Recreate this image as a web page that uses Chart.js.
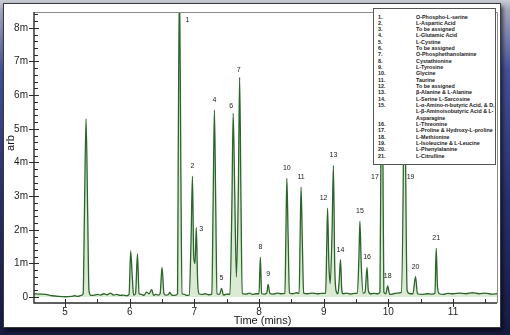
<!DOCTYPE html>
<html>
<head>
<meta charset="utf-8">
<script src="https://cdn.jsdelivr.net/npm/chart.js@4.4.1/dist/chart.umd.min.js"></script>
<style>
html, body { margin: 0; padding: 0; }
body {
  width: 510px; height: 335px; overflow: hidden; position: relative;
  background: linear-gradient(to bottom, #c9ccd3 0px, #a3a8bd 10px, #44519a 70px, #27306d 200px, #161b40 335px);
  font-family: "Liberation Sans", Arial, sans-serif;
}
#card {
  position: absolute; left: 3px; top: 3px; width: 496px; height: 323px;
  background: #fff; border: 1px solid #3a3a3a;
  box-shadow: 2px 3px 4px rgba(0,0,0,0.6);
}
#chart { position: absolute; left: 0; top: 0; }
#key {
  position: absolute; left: 373px; top: 8px; width: 123px; height: 157px;
  box-sizing: border-box; padding-top: 4.5px;
  background: #fff; border: 1px solid #555;
  font: bold 5.4px "Liberation Sans", Arial, sans-serif; color: #222;
}
#key .row { display: flex; line-height: 6.33px; }
#key .n { width: 38px; padding-left: 4px; flex: none; }
</style>
</head>
<body>
<div id="card"></div>
<canvas id="chart" width="510" height="335"></canvas>
<div id="key"></div>
<script>
// retention time (mins) and detector signal (m arb)
const time = [
  4.52, 4.60, 4.70, 4.80, 4.90, 5.00, 5.10, 5.15, 5.20, 5.25,
  5.28, 5.30, 5.325, 5.35, 5.37, 5.40, 5.45, 5.50, 5.55, 5.60,
  5.65, 5.70, 5.75, 5.80, 5.85, 5.90, 5.95, 5.99, 6.015, 6.04,
  6.06, 6.09, 6.12, 6.145, 6.18, 6.22, 6.26, 6.30, 6.34, 6.37,
  6.40, 6.44, 6.47, 6.50, 6.53, 6.56, 6.60, 6.62, 6.65, 6.70,
  6.74, 6.75, 6.77, 6.79, 6.81, 6.85, 6.88, 6.92, 6.95, 6.97,
  6.99, 7.01, 7.03, 7.05, 7.07, 7.12, 7.17, 7.22, 7.27, 7.29,
  7.31, 7.33, 7.35, 7.39, 7.42, 7.45, 7.50, 7.55, 7.58, 7.60,
  7.625, 7.65, 7.68, 7.70, 7.72, 7.74, 7.80, 7.85, 7.90, 7.95,
  8.00, 8.02, 8.04, 8.08, 8.12, 8.14, 8.17, 8.22, 8.28, 8.34,
  8.40, 8.415, 8.43, 8.45, 8.47, 8.52, 8.58, 8.62, 8.635, 8.65,
  8.67, 8.69, 8.75, 8.82, 8.90, 8.97, 9.03, 9.045, 9.06, 9.08,
  9.10, 9.13, 9.15, 9.17, 9.19, 9.22, 9.24, 9.26, 9.28, 9.30,
  9.36, 9.42, 9.48, 9.52, 9.545, 9.56, 9.58, 9.61, 9.64, 9.67,
  9.69, 9.72, 9.78, 9.84, 9.87, 9.885, 9.90, 9.915, 9.93, 9.96,
  9.99, 10.02, 10.08, 10.14, 10.20, 10.235, 10.25, 10.265, 10.29, 10.33,
  10.38, 10.42, 10.45, 10.52, 10.60, 10.68, 10.72, 10.74, 10.76, 10.79,
  10.85, 10.92, 11.00, 11.10, 11.20, 11.30, 11.40, 11.50, 11.60, 11.68
];
const signal = [
  0.10, 0.09, 0.08, 0.04, 0.02, 0.01, 0.02, 0.04, 0.02, 0.05,
  0.10, 2.50, 5.30, 2.50, 0.20, 0.05, 0.06, 0.08, 0.06, 0.10,
  0.07, 0.12, 0.06, 0.08, 0.05, 0.06, 0.04, 0.08, 1.37, 0.60,
  0.06, 0.10, 1.28, 0.10, 0.08, 0.05, 0.15, 0.10, 0.22, 0.05,
  0.08, 0.06, 0.10, 0.88, 0.10, 0.06, 0.08, 0.14, 0.06, 0.05,
  0.10, 4.00, 9.50, 4.00, 0.10, 0.08, 0.05, 0.06, 1.80, 3.59,
  1.20, 1.00, 2.07, 0.50, 0.10, 0.08, 0.10, 0.07, 0.09, 2.80,
  5.56, 2.80, 0.10, 0.08, 0.26, 0.06, 0.09, 0.08, 2.70, 5.46,
  3.00, 0.60, 3.20, 6.53, 3.00, 0.10, 0.09, 0.12, 0.08, 0.10,
  0.10, 1.18, 0.10, 0.09, 0.12, 0.38, 0.10, 0.09, 0.12, 0.10,
  0.11, 1.80, 3.53, 1.80, 0.12, 0.10, 0.13, 0.11, 1.70, 3.27,
  1.60, 0.12, 0.10, 0.12, 0.10, 0.11, 0.12, 1.30, 2.64, 1.00,
  0.40, 2.00, 3.91, 1.00, 0.20, 0.10, 0.50, 1.11, 0.20, 0.10,
  0.12, 0.09, 0.11, 0.12, 1.20, 2.25, 1.00, 0.12, 0.15, 0.88,
  0.20, 0.10, 0.11, 0.10, 0.15, 4.50, 9.50, 4.50, 0.15, 0.10,
  0.33, 0.08, 0.10, 0.12, 0.14, 4.50, 9.50, 4.50, 0.20, 0.10,
  0.10, 0.61, 0.10, 0.08, 0.10, 0.09, 0.12, 1.45, 0.30, 0.10,
  0.08, 0.11, 0.10, 0.12, 0.10, 0.13, 0.10, 0.12, 0.09, 0.10
];

// numbered peaks: apex time and height
const peakNo    = ['1','2','3','4','5','6','7','8','9','10','11','12','13','14','15','16','17','18','19','20','21'];
const peakTime  = [6.77, 6.97, 7.03, 7.31, 7.42, 7.60, 7.70, 8.02, 8.14, 8.43, 8.65, 9.06, 9.15, 9.26, 9.56, 9.67, 9.90, 9.99, 10.25, 10.42, 10.74];
const peakValue = [9.50, 3.59, 2.07, 5.56, 0.26, 5.46, 6.53, 1.18, 0.38, 3.53, 3.27, 2.64, 3.91, 1.11, 2.25, 0.88, 9.50, 0.33, 9.50, 0.61, 1.45];

const compoundNames = [
  'O-Phospho-L-serine',
  'L-Aspartic Acid',
  'To be assigned',
  'L-Glutamic Acid',
  'L-Cystine',
  'To be assigned',
  'O-Phosphethanolamine',
  'Cystathionine',
  'L-Tyrosine',
  'Glycine',
  'Taurine',
  'To be assigned',
  'β-Alanine & L-Alanine',
  'L-Serine L-Sarcosine',
  'L-α-Amino-n-butyric Acid, & D,<br>L-β-Aminoisobutyric Acid & L-<br>Asparagine',
  'L-Threonine',
  'L-Proline & Hydroxy-L-proline',
  'L-Methionine',
  'L-Isoleucine & L-Leucine',
  'L-Phenylalanine',
  'L-Citrulline'
];

const xTicks = [5, 6, 7, 8, 9, 10, 11];
const yTicks = [0, 1, 2, 3, 4, 5, 6, 7, 8];
const yTickLabels = ['0', '1m', '2m', '3m', '4m', '5m', '6m', '7m', '8m'];

// label tweaks for peaks whose number is not right above the apex
// (at = value in m where the label sits, used for off-scale peaks)
const labelPlace = {
  '1':  { dx: 8, at: 8.23 },
  '3':  { dx: 5, dy: 12 },
  '6':  { dx: -2, dy: 3 },
  '7':  { dx: -1, dy: 3 },
  '12': { dx: -4 },
  '17': { dx: -7, at: 3.56 },
  '19': { dx: 6, at: 3.56 }
};

let html = '';
compoundNames.forEach((name, i) => {
  html += '<div class="row"><span class="n">' + (i + 1) + '.</span><span>' + name + '</span></div>';
});
document.getElementById('key').innerHTML = html;

const FONT = '"Liberation Sans", Arial, sans-serif';

const frame = {
  id: 'frame',
  afterDatasetsDraw(chart) {
    const { ctx, scales: { x, y } } = chart;
    ctx.save();
    // peak numbers
    ctx.font = '7px ' + FONT;
    ctx.fillStyle = '#1a1a1a';
    ctx.textAlign = 'center';
    ctx.textBaseline = 'middle';
    peakNo.forEach((no, i) => {
      const p = labelPlace[no] || {};
      const px = x.getPixelForValue(peakTime[i]) + (p.dx || 0);
      let py;
      if (p.at !== undefined) py = y.getPixelForValue(p.at);
      else py = y.getPixelForValue(peakValue[i]) - 10 + (p.dy || 0);
      ctx.fillText(no, px, py);
    });
    ctx.restore();
  },
  afterDraw(chart) {
    const { ctx, chartArea: a, scales: { x, y } } = chart;
    ctx.save();
    // thin box on top/right
    ctx.strokeStyle = '#8c8c8c';
    ctx.lineWidth = 1;
    ctx.beginPath();
    ctx.moveTo(a.left, a.top + 0.5);
    ctx.lineTo(a.right + 0.5, a.top + 0.5);
    ctx.lineTo(a.right + 0.5, a.bottom);
    ctx.stroke();
    // axes
    ctx.strokeStyle = '#2b2b2b';
    ctx.lineWidth = 1.4;
    ctx.beginPath();
    ctx.moveTo(a.left, a.top);
    ctx.lineTo(a.left, a.bottom);
    ctx.lineTo(a.right, a.bottom);
    ctx.stroke();
    ctx.lineWidth = 1;
    // y ticks: major cross the axis, minor every 0.2 inside
    for (let i = 0; i / 5 <= y.max; i++) {
      const py = Math.round(y.getPixelForValue(i / 5)) + 0.5;
      ctx.beginPath();
      if (i % 5 === 0) { ctx.moveTo(a.left - 5, py); ctx.lineTo(a.left + 5, py); }
      else { ctx.moveTo(a.left, py); ctx.lineTo(a.left + 4, py); }
      ctx.stroke();
    }
    // x ticks: major cross, minor every 0.5 inside
    for (let i = Math.ceil(x.min * 2); i / 2 <= x.max; i++) {
      const px = Math.round(x.getPixelForValue(i / 2)) + 0.5;
      ctx.beginPath();
      if (i % 2 === 0) { ctx.moveTo(px, a.bottom - 4); ctx.lineTo(px, a.bottom + 4); }
      else { ctx.moveTo(px, a.bottom); ctx.lineTo(px, a.bottom - 4); }
      ctx.stroke();
    }
    // axis titles
    ctx.fillStyle = '#1a1a1a';
    ctx.font = '11px ' + FONT;
    ctx.textAlign = 'center';
    ctx.textBaseline = 'middle';
    ctx.fillText('Time (mins)', (a.left + a.right) / 2 - 3, a.bottom + 18);
    ctx.translate(11, 143);
    ctx.rotate(-Math.PI / 2);
    ctx.fillText('arb', 0, 0);
    ctx.restore();
  }
};

const points = time.map((t, i) => ({ x: t, y: signal[i] }));

new Chart(document.getElementById('chart'), {
  type: 'line',
  data: {
    datasets: [{
      data: points,
      borderColor: '#2b652a',
      borderWidth: 1.3,
      backgroundColor: 'rgba(150, 195, 130, 0.35)',
      fill: 'origin',
      pointRadius: 0,
      tension: 0,
      cubicInterpolationMode: 'monotone'
    }]
  },
  options: {
    responsive: false,
    animation: false,
    layout: { padding: { left: 0, top: 8, right: 13, bottom: 0 } },
    plugins: { legend: { display: false }, tooltip: { enabled: false } },
    scales: {
      x: {
        type: 'linear',
        min: 4.52,
        max: 11.68,
        afterBuildTicks: (s) => { s.ticks = xTicks.map(v => ({ value: v })); },
        afterFit: (s) => { s.height = 32; },
        grid: { display: false, drawTicks: false },
        border: { display: false },
        ticks: { padding: 3, color: '#1e1e1e', font: { family: FONT, size: 10 } }
      },
      y: {
        min: -0.175,
        max: 8.47,
        afterBuildTicks: (s) => { s.ticks = yTicks.map(v => ({ value: v })); },
        afterFit: (s) => { s.width = 34; },
        grid: { display: false, drawTicks: false },
        border: { display: false },
        ticks: {
          padding: 6, color: '#1e1e1e', font: { family: FONT, size: 10 },
          callback: (v) => yTickLabels[yTicks.indexOf(v)]
        }
      }
    }
  },
  plugins: [frame]
});
</script>
</body>
</html>
